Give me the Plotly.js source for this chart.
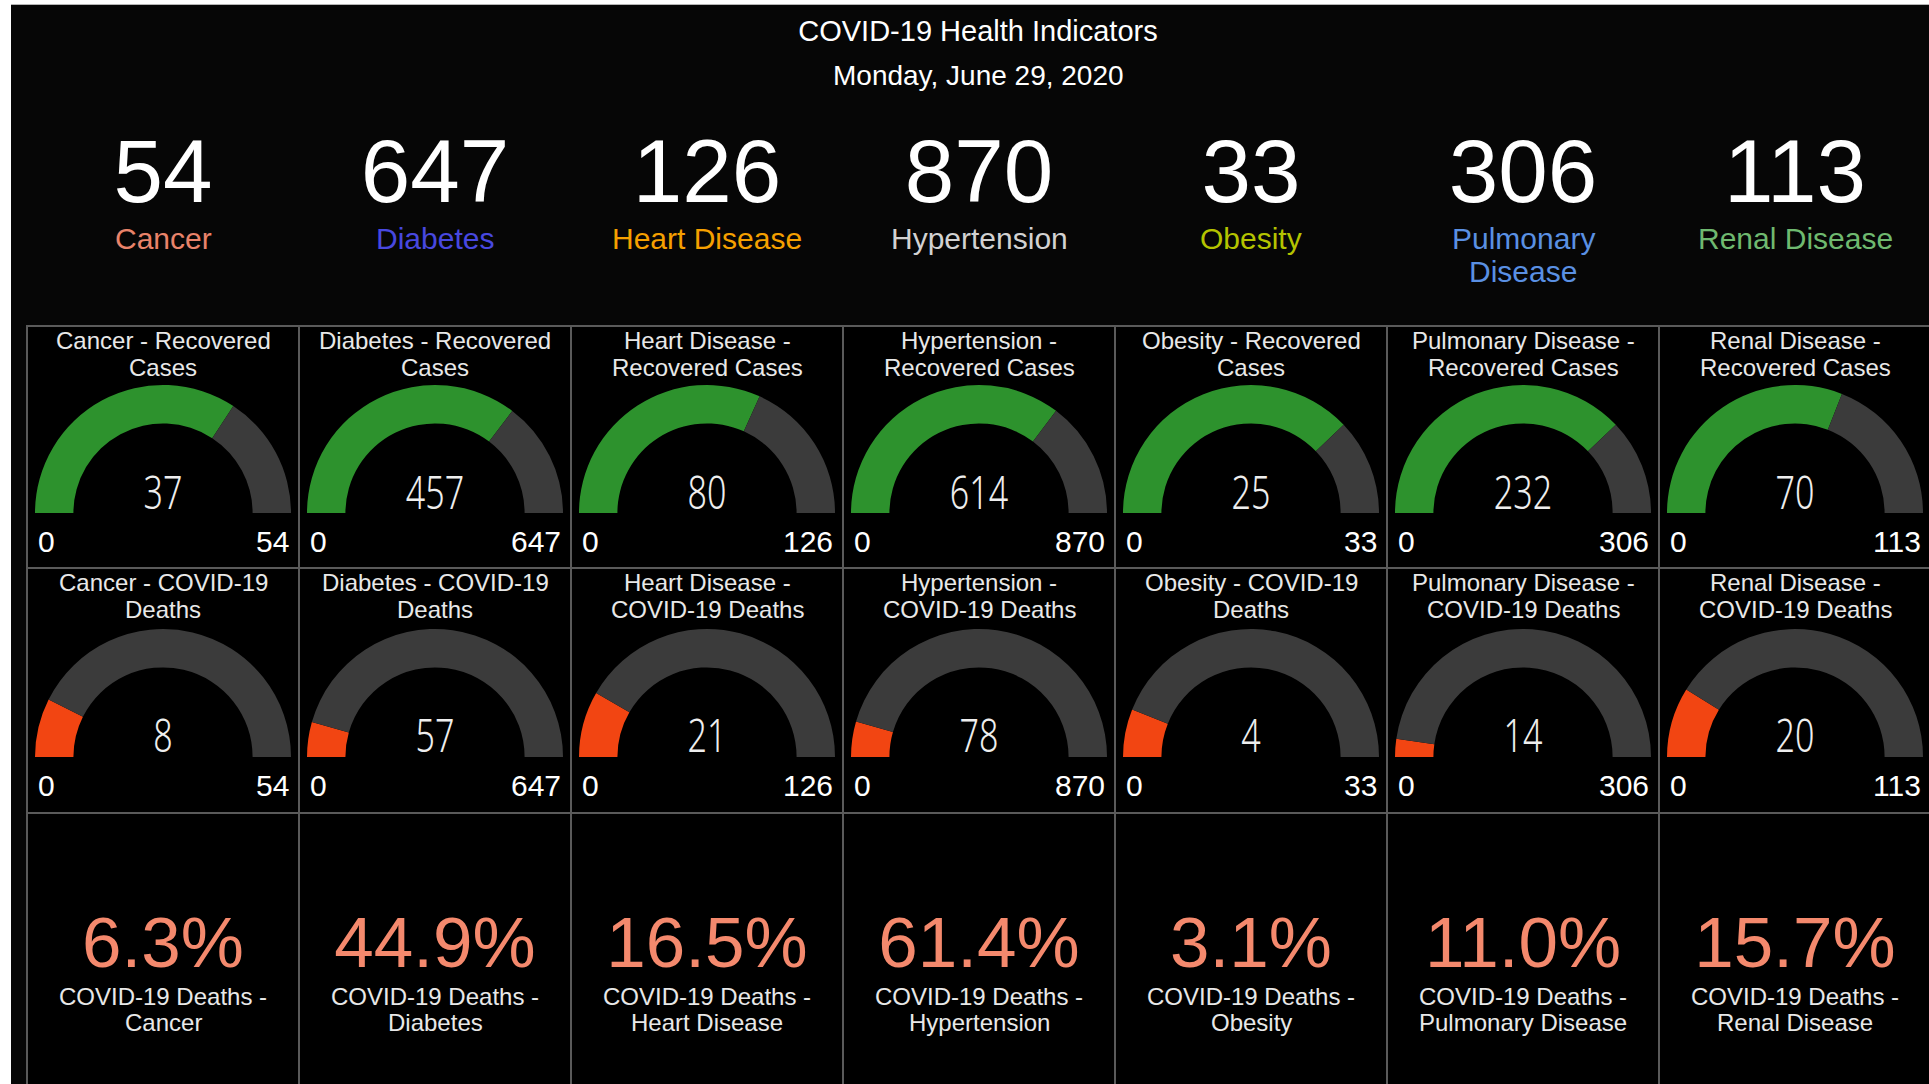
<!DOCTYPE html>
<html><head><meta charset="utf-8">
<script src="https://cdn.plot.ly/plotly-3.0.1.min.js"></script>
<style>
html,body{margin:0;padding:0;background:#fff;width:1929px;height:1084px;overflow:hidden;}
#edge{position:absolute;left:11px;top:4px;width:1918px;height:1px;background:#b4b4b4;}
#chart{position:absolute;left:11px;top:5px;width:1918px;height:1079px;}
#chart text.number[style*="Noto Sans"]{transform-box:fill-box;transform-origin:50% 50%;transform:scaleX(0.74);}
</style></head><body><div id="edge"></div><div id="chart"></div>
<script>
// ---- data ----
const categories = ['Cancer', 'Diabetes', 'Heart Disease', 'Hypertension', 'Obesity', 'Pulmonary Disease', 'Renal Disease'];
const totals = [54, 647, 126, 870, 33, 306, 113];
const recovered = [37, 457, 80, 614, 25, 232, 70];
const deaths = [8, 57, 21, 78, 4, 14, 20];
const deathShare = [6.3, 44.9, 16.5, 61.4, 3.1, 11.0, 15.7];
const headerLabelLines = [['Cancer'], ['Diabetes'], ['Heart Disease'], ['Hypertension'], ['Obesity'], ['Pulmonary', 'Disease'], ['Renal Disease']];
const recoveredTitles = [['Cancer - Recovered', 'Cases'], ['Diabetes - Recovered', 'Cases'], ['Heart Disease -', 'Recovered Cases'], ['Hypertension -', 'Recovered Cases'], ['Obesity - Recovered', 'Cases'], ['Pulmonary Disease -', 'Recovered Cases'], ['Renal Disease -', 'Recovered Cases']];
const deathTitles = [['Cancer - COVID-19', 'Deaths'], ['Diabetes - COVID-19', 'Deaths'], ['Heart Disease -', 'COVID-19 Deaths'], ['Hypertension -', 'COVID-19 Deaths'], ['Obesity - COVID-19', 'Deaths'], ['Pulmonary Disease -', 'COVID-19 Deaths'], ['Renal Disease -', 'COVID-19 Deaths']];
const shareTitles = [['COVID-19 Deaths -', 'Cancer'], ['COVID-19 Deaths -', 'Diabetes'], ['COVID-19 Deaths -', 'Heart Disease'], ['COVID-19 Deaths -', 'Hypertension'], ['COVID-19 Deaths -', 'Obesity'], ['COVID-19 Deaths -', 'Pulmonary Disease'], ['COVID-19 Deaths -', 'Renal Disease']];
const labelColors = ['#e9836a', '#4848e0', '#f5a000', '#d2d2d2', '#b4c300', '#5a90e3', '#6fb96f'];
const titleText = 'COVID-19 Health Indicators';
const subtitleText = 'Monday, June 29, 2020';

// ---- styling / layout helpers ----
const W = 1918, H = 1079;
const COL0 = 16, COLW = 272;
const ROW_TOP = [321, 563, 808];
const ROW_BOTTOM = [563, 808, 1100];
const R = 128;
const gaugeBase = [508, 752];
const gaugeNumY = [486, 729];
const tickY = [536, 780];
const titleLineY = [[335, 362], [577, 604]];
const SANS = "'Liberation Sans', Arial, sans-serif";
const NARROW = "'Noto Sans', 'DejaVu Sans Condensed', sans-serif";
const barColors = ['#2d922d', '#f24512'];
const trackColor = '#3b3b3b';
const pctColor = '#f4896d';
const fx = p => p / W;
const fy = p => 1 - p / H;
const colCenter = i => COL0 + COLW * i + COLW / 2;

const traces = [], annotations = [], shapes = [];

function label(text, x, y, size, color, family, xanchor) {
  annotations.push({text: text, x: fx(x), y: fy(y), xref: 'paper', yref: 'paper',
    xanchor: xanchor || 'center', yanchor: 'middle', showarrow: false,
    font: {size: size, color: color, family: family || SANS}});
}

// cells
for (let r = 0; r < 3; r++) {
  for (let i = 0; i < categories.length; i++) {
    shapes.push({type: 'rect', xref: 'paper', yref: 'paper', layer: 'below',
      x0: fx(COL0 + COLW * i), x1: fx(COL0 + COLW * (i + 1)),
      y0: fy(ROW_BOTTOM[r]), y1: fy(ROW_TOP[r]),
      fillcolor: '#000', line: {color: '#5a5a5a', width: 2}});
  }
}

// header numbers and labels
categories.forEach((c, i) => {
  const cx = colCenter(i);
  traces.push({type: 'indicator', mode: 'number', value: totals[i],
    number: {valueformat: 'd', font: {size: 89, color: '#ffffff', family: SANS}},
    domain: {x: [fx(cx - 130), fx(cx + 130)], y: [fy(166 + 60), fy(166 - 60)]}});
  headerLabelLines[i].forEach((t, k) => label(t, cx, 233.5 + 33 * k, 30, labelColors[i]));
});

// gauges
[recovered, deaths].forEach((arr, r) => {
  const titles = r === 0 ? recoveredTitles : deathTitles;
  arr.forEach((v, i) => {
    const cx = colCenter(i), by = gaugeBase[r];
    traces.push({type: 'pie', values: [v, totals[i] - v, totals[i]],
      marker: {colors: [barColors[r], trackColor, 'rgba(0,0,0,0)'], line: {width: 0}},
      hole: 0.7, sort: false, direction: 'clockwise', rotation: -90,
      textinfo: 'none', hoverinfo: 'skip', showlegend: false,
      domain: {x: [fx(cx - R), fx(cx + R)], y: [fy(by + R), fy(by - R)]}});
    traces.push({type: 'indicator', mode: 'number', value: v,
      number: {valueformat: 'd', font: {size: 46, color: '#eeeeee', family: NARROW, weight: 300}},
      domain: {x: [fx(cx - 90), fx(cx + 90)], y: [fy(gaugeNumY[r] + 30), fy(gaugeNumY[r] - 30)]}});
    label('0', cx - R + 1, tickY[r], 30, '#ffffff', SANS, 'left');
    label(String(totals[i]), cx + R, tickY[r], 30, '#ffffff', SANS, 'right');
    titles[i].forEach((t, k) => label(t, cx, titleLineY[r][k], 24, '#e8e8e8'));
  });
});

// share of COVID-19 deaths
deathShare.forEach((p, i) => {
  const cx = colCenter(i);
  traces.push({type: 'indicator', mode: 'number', value: p,
    number: {valueformat: '.1f', suffix: '%', font: {size: 71, color: pctColor, family: SANS}},
    domain: {x: [fx(cx - 130), fx(cx + 130)], y: [fy(937 + 50), fy(937 - 50)]}});
  shareTitles[i].forEach((t, k) => label(t, cx, 992 + 25 * k, 24, '#e8e8e8'));
});

label(subtitleText, 967, 70, 28, '#ffffff');

const layout = {
  width: W, height: H,
  margin: {l: 0, r: 0, t: 0, b: 0},
  paper_bgcolor: '#060606', plot_bgcolor: '#060606',
  showlegend: false,
  title: {text: titleText, x: fx(967), xanchor: 'center', xref: 'paper',
    y: 1 - 26 / H, yanchor: 'middle', yref: 'container',
    font: {size: 29, color: '#ffffff', family: SANS}},
  annotations: annotations,
  shapes: shapes
};

Plotly.newPlot('chart', traces, layout, {displayModeBar: false, staticPlot: true});
</script>
</body></html>
